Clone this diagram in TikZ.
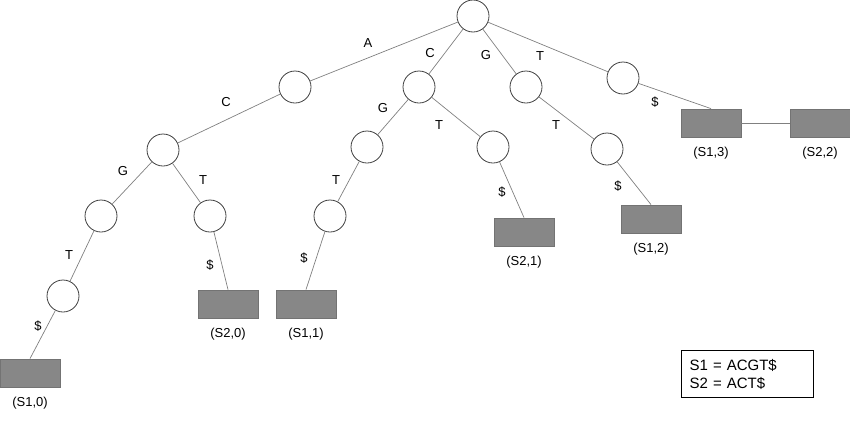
\documentclass[tikz,border=0pt]{standalone}
\usepackage{fontspec}
\setmainfont{Liberation Sans}
\usetikzlibrary{positioning}

\begin{document}
\begin{tikzpicture}[
  x=1pt, y=-1pt,
  state/.style={draw=black!75, fill=white, circle, line width=0.8pt,
                minimum size=32pt, inner sep=0pt},
  leaf/.style={draw=black!55, fill=black!47, line width=0.8pt,
               minimum width=60pt, minimum height=28pt, inner sep=0pt},
  lbl/.style={font=\fontsize{13}{15}\selectfont, inner sep=0pt},
  edge/.style={draw=black!50, line width=0.7pt}
]
\useasboundingbox (0,0) rectangle (850,426);

% inner nodes
\node[state] (root)  at (473,16)  {};
\node[state] (nA)    at (295,87)  {};
\node[state] (nAC)   at (163,150) {};
\node[state] (nACG)  at (101,216) {};
\node[state] (nACGT) at (63,296)  {};
\node[state] (nACT)  at (210,216) {};
\node[state] (nC)    at (419,87)  {};
\node[state] (nCG)   at (367,147) {};
\node[state] (nCGT)  at (330,216) {};
\node[state] (nCT)   at (493,147) {};
\node[state] (nG)    at (526,87)  {};
\node[state] (nGT)   at (607,149) {};
\node[state] (nT)    at (623,78)  {};

% leaves
\node[leaf] (s10) at (30,373)  {};
\node[leaf] (s20) at (228,304) {};
\node[leaf] (s11) at (306,304) {};
\node[leaf] (s21) at (524,232) {};
\node[leaf] (s12) at (651,219) {};
\node[leaf] (s13) at (711,123) {};
\node[leaf] (s22) at (820,123) {};

\node[lbl, below=9pt of s10] (t10) {(S1,0)};
\node[lbl, below=9pt of s20] (t20) {(S2,0)};
\node[lbl, below=9pt of s11] (t11) {(S1,1)};
\node[lbl, below=9pt of s21] (t21) {(S2,1)};
\node[lbl, below=9pt of s12] (t12) {(S1,2)};
\node[lbl, below=9pt of s13] (t13) {(S1,3)};
\node[lbl, below=9pt of s22] (t22) {(S2,2)};

% edges
\draw[edge] (root) -- (nA);
\draw[edge] (nA) -- (nAC);
\draw[edge] (nAC) -- (nACG);
\draw[edge] (nACG) -- (nACGT);
\draw[edge] (nACGT) -- (s10.north);
\draw[edge] (nAC) -- (nACT);
\draw[edge] (nACT) -- (s20.north);
\draw[edge] (root) -- (nC);
\draw[edge] (nC) -- (nCG);
\draw[edge] (nCG) -- (nCGT);
\draw[edge] (nCGT) -- (s11.north);
\draw[edge] (nC) -- (nCT);
\draw[edge] (nCT) -- (s21.north);
\draw[edge] (root) -- (nG);
\draw[edge] (nG) -- (nGT);
\draw[edge] (nGT) -- (s12.north);
\draw[edge] (root) -- (nT);
\draw[edge] (nT) -- (s13.north);
\draw[edge] (s13) -- (s22);

% edge labels
\node[lbl] (eA)    at (368,43)  {A};
\node[lbl] (eAC)   at (226,102) {C};
\node[lbl] (eACG)  at (123,171) {G};
\node[lbl] (eACGT) at (69,255)  {T};
\node[lbl] (eS10)  at (38,326)  {\$};
\node[lbl] (eACT)  at (203,180) {T};
\node[lbl] (eS20)  at (210,265) {\$};
\node[lbl] (eC)    at (430,53)  {C};
\node[lbl] (eCG)   at (383,108) {G};
\node[lbl] (eCGT)  at (336,180) {T};
\node[lbl] (eS11)  at (304,258) {\$};
\node[lbl] (eCT)   at (439,125) {T};
\node[lbl] (eS21)  at (502,192) {\$};
\node[lbl] (eG)    at (486,55)  {G};
\node[lbl] (eGT)   at (556,125) {T};
\node[lbl] (eS12)  at (618,186) {\$};
\node[lbl] (eT)    at (540,56)  {T};
\node[lbl] (eS13)  at (655,102) {\$};

% legend
\node[draw, line width=1.4pt, minimum width=132pt, minimum height=47pt,
      inner xsep=8pt, align=left, anchor=north west,
      font=\fontsize{15}{18}\selectfont, text width=116pt] (key) at (681,350)
  {S1 = ACGT\$\\S2 = ACT\$};
\end{tikzpicture}
\end{document}
